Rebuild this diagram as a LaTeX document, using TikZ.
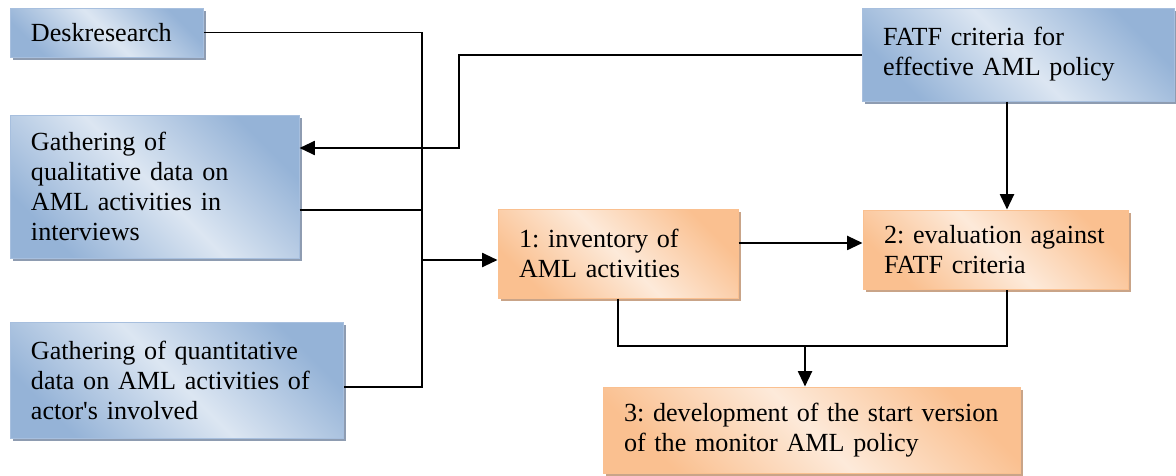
\documentclass[tikz,border=0pt]{standalone}
\usepackage{fontspec}
\setmainfont{Liberation Serif}
\newfontfamily\plainserif{Liberation Serif}
\usepackage{tikz}
\usetikzlibrary{arrows.meta,shadows}
\frenchspacing

\definecolor{bdark}{HTML}{95B3D7}
\definecolor{blight}{HTML}{DCE6F2}
\definecolor{bline}{HTML}{A7BFDE}
\definecolor{bshadow}{HTML}{8E9CB1}
\definecolor{odark}{HTML}{FAC090}
\definecolor{olight}{HTML}{FDEADA}
\definecolor{oline}{HTML}{FAC090}
\definecolor{oshadow}{HTML}{C9A488}

\tikzset{
  box/.style={rectangle, inner xsep=15.75pt, inner ysep=0pt, align=left,
    line width=0.75pt, font=\fontsize{19.6}{22.5}\selectfont},
  bluebox/.style={box, draw=bline, top color=bdark, bottom color=bdark,
    middle color=blight, shading angle=-45,
    drop shadow={shadow xshift=2.5pt, shadow yshift=-2.5pt, fill=bshadow, opacity=1}},
  orangebox/.style={box, draw=oline, top color=odark, bottom color=odark,
    middle color=olight, shading angle=-45,
    drop shadow={shadow xshift=2.5pt, shadow yshift=-2.5pt, fill=oshadow, opacity=1}},
  thinline/.style={line width=1pt},
  arr/.style={line width=1.5pt, -{Triangle[length=11.5pt,width=10.5pt]}}
}

\begin{document}
\begin{tikzpicture}[x=0.75pt,y=-0.75pt]
  \useasboundingbox (0,0) rectangle (1176,475);

  \node[bluebox, text width=113.25pt, minimum height=36.75pt] (desk) at (106.5,32.5) {Deskresearch};
  \node[bluebox, text width=185.25pt, minimum height=107.25pt] (qual) at (154.5,186.5)
    {Gathering of\\qualitative data on\\AML activities in\\interviews};
  \node[bluebox, text width=218.25pt, minimum height=87pt] (quant) at (176.5,380)
    {Gathering of quantitative\\data on AML activities of\\actor{\plainserif '}s involved};
  \node[bluebox, text width=202.5pt, minimum height=69.75pt] (fatf) at (1018,54.5)
    {FATF criteria for\\effective AML policy};
  \node[orangebox, text width=148.5pt, minimum height=66.75pt] (inv) at (618,253.5)
    {1: inventory of\\AML activities};
  \node[orangebox, text width=167.25pt, minimum height=59.25pt] (eval) at (995.5,249.5)
    {2: evaluation against\\FATF criteria};
  \node[orangebox, text width=281.25pt, minimum height=64.5pt] (out) at (811.5,430)
    {3: development of the start version\\of the monitor AML policy};

  \coordinate (bus) at (422,260);
  \coordinate (fbend) at (459,148);
  \coordinate (merge) at (805,346);

  \draw[thinline] (desk.east) -| (bus) |- ([yshift=-5.25pt]quant.east);
  \draw[thinline] ([yshift=-17.6pt]qual.east) coordinate (qout) -- (qout -| bus);
  \draw[arr] (bus) -- (bus -| inv.west);
  \draw[arr] (fatf.west) -| (fbend) -- (fbend -| qual.east);
  \draw[arr] ([xshift=-8.25pt]fatf.south) coordinate (fdrop) -- (fdrop |- eval.north);
  \draw[arr] ([yshift=7.9pt]inv.east) coordinate (iout) -- (iout -| eval.west);
  \draw[thinline] (inv.south) |- (merge) -| (fdrop |- eval.south);
  \draw[arr] (merge) -- (merge |- out.north);
\end{tikzpicture}
\end{document}
